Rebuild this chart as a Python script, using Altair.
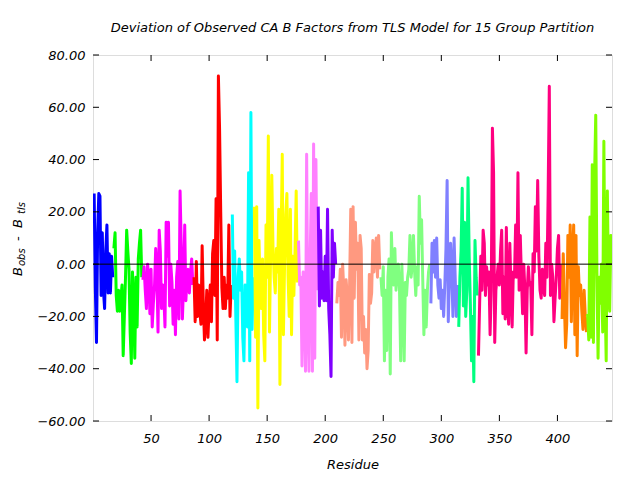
import altair as alt
import pandas as pd

# ---- data (residue deviations, B_obs - B_tls), one list per TLS group ----
g01_blue = [27, -9, -30, 12, 27, 26, -12, 12, -10, -17, 5, 15, -11, 4, -11, 3, -5]
g02_green = [6, 12, -12, -18, -10, -18, -13, -8, -35, -20, -5, 13, 5, -2, -26, -38, -3, -15, -36, -5, -24, 2, 8, 13, -5]
g03_magenta = [-6, -1, -10, -17, 0, -5, -19, -2, -24, -15, -8, 6, -3, -26, 13, 5, -17, -8, -12, -24, 16, 3, 16, -16,
               0, -7, -23, -10, -27, -5, 1, -21, 28, 7, -21, -8, 15, -14, -5, -2, -11, -3, 2, -8]
g04_red = [-5, -22, 1, -20, -8, -18, -23, 7, -15, -29, -22, -10, -28, -17, -8, -22, 4, 9, -12, 25, -29, 72, 52, 20,
           -9, -17, -5, -17, -8, -13, 15, -20, -8]
g05_cyan = [19, -13, 5, -20, -45, -5, 2, -10, -3, -28, -37, -8, -15, -24, 35, -37, 58, -25, -5]
g06_yellow = [22, -28, 22, -55, 9, -10, -17, 2, -27, -37, 15, -5, 49, -26, 5, 34, 7, -5, -11, 6, -3, 21, -46, 10,
              42, -27, 0, 19, 27, -5, -20, 21, -27, 3, -12, 5, 28, -7]
g07_pink = [9, -8, -5, -39, -3, -8, -41, 42, -20, -41, 2, 27, -41, 46, -36, 40, -10]
g08_purple = [22, -16, 13, -13, -3, -14, 3, -14, 21, -17, -27, -43, 13, -5, 8, 0]
g09_salmon = [-15, -7, -12, -2, -28, 0, -10, -31, -6, -12, -29, -8, 21, -30, 22, -13, 16, -2, 8, -29, 11, 6, -29,
              -20, -34, -25, -40, -33, -4, -15, -11, 9, -3, 5, 10, -5, 11, -2]
g10_lightgreen = [-5, -12, -1, -37, -10, -33, -5, 2, -42, 12, -3, -8, 6, -10, -2, 0, -10, -37, 0, -15, -37, -7,
                  -12, -5, -2, 11, -5, 0, 11, -3, -12, -1, -8, 26, 8, 17, -6, -27, -10, -24, -10, -3, 0]
g11_periwinkle = [-15, 8, -3, 9, -5, 10, -8, -13, -6, -17, -10, -20, -8, 6, 32, -22, -5, 8, -3, -20, 10, -6, -20, -8]
g12_springgreen = [-24, -5, 5, 29, -16, 16, -20, -10, 33, 3, -15, -37, -20, -45, 9, -5, -12]
g13_deeppink = [-35, -15, 3, -10, 13, 8, -12, -1, -8, -3, -27, -10, 52, 35, -30, -10, -5, 0, -8, 5, 13, -19, -5,
                -21, 14, -16, -23, 8, -10, -24, -3, -5, 15, -5, 35, -10, 11, -5, -19, 0, -10, -34, -10, -1, -8,
                -7, -27, 4, -3, 22, 5, 32, 3, -10, -13, -2, -8, -12, 8, -5, 27, 68, -12, 0, -5, -22, -13, -5, 6,
                11, -13, 0]
g14_orange = [-21, 4, -15, -32, -23, 11, -5, 15, -22, 4, 15, -27, 11, -35, -1, -12, -8, -18, -25, -10, -20, -26]
g15_chartreuse = [-19, -29, 18, -28, 38, -30, 34, 57, -3, -36, -5, -15, 0, -26, 47, -12, -37, 28, -10, -18, 11, 0]

group_values = [g01_blue, g02_green, g03_magenta, g04_red, g05_cyan, g06_yellow, g07_pink, g08_purple,
                g09_salmon, g10_lightgreen, g11_periwinkle, g12_springgreen, g13_deeppink, g14_orange,
                g15_chartreuse]
group_names = ["G01", "G02", "G03", "G04", "G05", "G06", "G07", "G08", "G09", "G10", "G11", "G12", "G13",
               "G14", "G15"]
group_colors = ["#0000ff", "#00ff00", "#ff00ff", "#ff0000", "#00ffff", "#ffff00", "#ff80ff", "#8000ff",
                "#ff9980", "#80ff80", "#8080ff", "#00ff80", "#ff0080", "#ff8000", "#80ff00"]

x_ticks = [50, 100, 150, 200, 250, 300, 350, 400]
y_ticks = [-60, -40, -20, 0, 20, 40, 60, 80]

rows = []
res = 1
for name, vals in zip(group_names, group_values):
    for v in vals:
        rows.append({"residue": res, "dev": v, "group": name})
        res += 1
df = pd.DataFrame(rows)

W, H = 519, 366
FONT = "DejaVu Sans"
FS = 13
XDOM = [0, 447]
YDOM = [-60, 80]
xs = alt.Scale(domain=XDOM, nice=False, zero=False)
ys = alt.Scale(domain=YDOM, nice=False, zero=False)

x_axis = alt.Axis(values=x_ticks, ticks=False, domain=False, grid=False, labelFont=FONT,
                  labelFontStyle="italic", labelFontSize=FS, labelColor="black", labelPadding=11,
                  title="Residue", titleFont=FONT, titleFontStyle="italic", titleFontWeight="normal",
                  titleFontSize=FS, titleColor="black", titlePadding=13)
y_axis = alt.Axis(values=y_ticks, format=".2f", ticks=False, domain=False, grid=False,
                  labelFont=FONT, labelFontStyle="italic", labelFontSize=FS, labelColor="black",
                  labelPadding=8, title=None)

lines = alt.Chart(df).mark_line(strokeWidth=3, strokeJoin="round", clip=True).encode(
    x=alt.X("residue:Q", scale=xs, axis=x_axis),
    y=alt.Y("dev:Q", scale=ys, axis=y_axis),
    color=alt.Color("group:N", scale=alt.Scale(domain=group_names, range=group_colors), legend=None),
)

zero = alt.Chart(pd.DataFrame({"z": [0]})).mark_rule(color="black", strokeWidth=1).encode(
    y=alt.Y("z:Q", scale=ys, axis=y_axis))

xt = pd.DataFrame({"t": x_ticks})
yt = pd.DataFrame({"t": y_ticks})
tick_b = alt.Chart(xt).mark_rule(color="black").encode(
    x=alt.X("t:Q", scale=xs, axis=x_axis), y=alt.value(H), y2=alt.value(H - 6))
tick_t = alt.Chart(xt).mark_rule(color="black").encode(
    x=alt.X("t:Q", scale=xs, axis=x_axis), y=alt.value(0), y2=alt.value(6))
tick_l = alt.Chart(yt).mark_rule(color="black").encode(
    y=alt.Y("t:Q", scale=ys, axis=y_axis), x=alt.value(0), x2=alt.value(6))
tick_r = alt.Chart(yt).mark_rule(color="black").encode(
    y=alt.Y("t:Q", scale=ys, axis=y_axis), x=alt.value(W), x2=alt.value(W - 6))


def ytext(s, size, xpos, ypos):
    return alt.Chart(pd.DataFrame({"s": [s]})).mark_text(
        angle=270, align="left", baseline="alphabetic", font=FONT, fontStyle="italic", fontSize=size,
        color="black").encode(text="s:N", x=alt.value(xpos), y=alt.value(ypos))


# y-axis title with subscripts: B_obs - B_tls  (plot-area coordinates; reads bottom to top)
yt_B1 = ytext("B", FS, -71, 221)
yt_obs = ytext("obs", 10, -68, 211)
yt_dash = ytext("-", FS, -71, 186)
yt_B2 = ytext("B", FS, -71, 173)
yt_tls = ytext("tls", 10, -68, 159)

chart = alt.layer(lines, zero, tick_b, tick_t, tick_l, tick_r,
                  yt_B1, yt_obs, yt_dash, yt_B2, yt_tls).properties(
    width=W, height=H,
    title=alt.Title("Deviation of Observed CA B Factors from TLS Model for 15 Group Partition",
                    font=FONT, fontStyle="italic", fontWeight="normal", fontSize=FS, color="black",
                    anchor="middle", offset=14),
    padding={"left": 85, "top": 47, "right": 20, "bottom": 51},
    autosize=alt.AutoSizeParams(type="none"),
).configure_view(stroke="black", strokeWidth=1).configure(background="white")

chart.save("out.html", embed_options={"renderer": "svg", "actions": False})
